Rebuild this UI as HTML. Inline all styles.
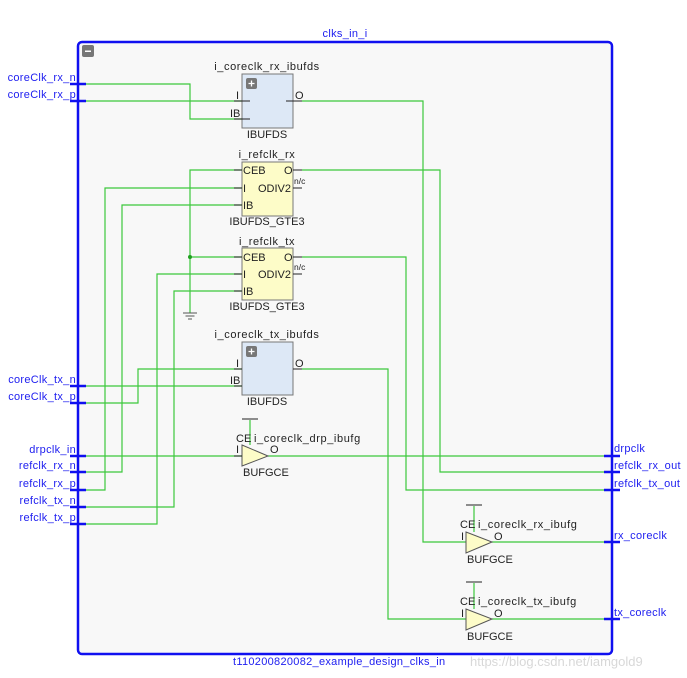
<!DOCTYPE html>
<html><head><meta charset="utf-8"><style>
html,body{margin:0;padding:0;background:#fff;}
svg{display:block;}
text{font-family:"Liberation Sans","DejaVu Sans",sans-serif;font-size:11px;}
.b{fill:#2020f0;letter-spacing:0.3px;}
.k{fill:#222;}
.n{letter-spacing:0.6px;}
.g{stroke:#3cc83c;stroke-width:1.2;fill:none;}
.p{stroke:#1010f0;stroke-width:2.5;}
.pin{stroke:#222;stroke-width:1;}
</style></head><body>
<svg width="687" height="678" viewBox="0 0 687 678" xmlns="http://www.w3.org/2000/svg">
<rect x="0" y="0" width="687" height="678" fill="#fff"/>
<rect x="78" y="42" width="534" height="612" rx="4" fill="#f8f8f8" stroke="#1010f0" stroke-width="2.5"/>
<rect x="82" y="45" width="12" height="12" rx="2" fill="#777"/>
<rect x="85" y="50.5" width="6" height="1.5" fill="#fff"/>
<text x="345" y="37" text-anchor="middle" class="b">clks_in_i</text>
<text x="233" y="665" class="b">t110200820082_example_design_clks_in</text>
<text x="470" y="666" fill="#d8d8d8" style="font-size:13px">https://blog.csdn.net/iamgold9</text>

<g class="g">
<path d="M86 84 H190 V119 H242"/>
<path d="M86 101 H242"/>
<path d="M302 101 H423 V542 H466"/>
<path d="M242 170 H190 V313"/>
<path d="M190 257 H242"/>
<path d="M242 188 H105 V490 H86"/>
<path d="M242 205 H122 V472 H86"/>
<path d="M242 274 H157 V524 H86"/>
<path d="M242 291 H174 V507 H86"/>
<path d="M302 170 H440 V472 H604"/>
<path d="M302 257 H406 V490 H604"/>
<path d="M86 386 H242"/>
<path d="M86 403 H138 V369 H242"/>
<path d="M302 369 H388 V619 H466"/>
<path d="M86 456 H242"/>
<path d="M268 456 H604"/>
<path d="M492 542 H604"/>
<path d="M492 619 H604"/>
<path d="M250 420 V445"/>
<path d="M474 506 V532"/>
<path d="M474 583 V609"/>
</g>
<circle cx="190" cy="257" r="2" fill="#20a020"/>
<g stroke="#555" stroke-width="1"><line x1="183" y1="313" x2="197" y2="313"/><line x1="185.5" y1="316" x2="194.5" y2="316"/><line x1="188" y1="319" x2="192" y2="319"/></g>

<g class="p">
<line x1="70" y1="84" x2="86" y2="84"/><line x1="70" y1="101" x2="86" y2="101"/>
<line x1="70" y1="386" x2="86" y2="386"/><line x1="70" y1="403" x2="86" y2="403"/>
<line x1="70" y1="456" x2="86" y2="456"/><line x1="70" y1="472" x2="86" y2="472"/>
<line x1="70" y1="490" x2="86" y2="490"/><line x1="70" y1="507" x2="86" y2="507"/>
<line x1="70" y1="524" x2="86" y2="524"/>
<line x1="604" y1="456" x2="620" y2="456"/><line x1="604" y1="472" x2="620" y2="472"/>
<line x1="604" y1="490" x2="620" y2="490"/><line x1="604" y1="542" x2="620" y2="542"/>
<line x1="604" y1="619" x2="620" y2="619"/>
</g>
<g class="b" text-anchor="end">
<text x="76" y="81">coreClk_rx_n</text><text x="76" y="98">coreClk_rx_p</text>
<text x="76" y="383">coreClk_tx_n</text><text x="76" y="400">coreClk_tx_p</text>
<text x="76" y="453">drpclk_in</text><text x="76" y="469">refclk_rx_n</text>
<text x="76" y="487">refclk_rx_p</text><text x="76" y="504">refclk_tx_n</text>
<text x="76" y="521">refclk_tx_p</text>
</g>
<g class="b">
<text x="614" y="452">drpclk</text><text x="614" y="469">refclk_rx_out</text>
<text x="614" y="487">refclk_tx_out</text><text x="614" y="539">rx_coreclk</text>
<text x="614" y="616">tx_coreclk</text>
</g>

<rect x="242" y="74" width="51" height="54" fill="#dde8f6" stroke="#777" stroke-width="1"/>
<rect x="246" y="78" width="11" height="11" rx="2" fill="#777"/><path d="M251.5 80.5v6M248.5 83.5h6" stroke="#fff" stroke-width="1.3"/>
<g class="pin"><line x1="234" y1="101" x2="250" y2="101"/><line x1="234" y1="119" x2="250" y2="119"/><line x1="286" y1="101" x2="302" y2="101"/></g>
<g class="k"><text x="267" y="70" text-anchor="middle" class="n">i_coreclk_rx_ibufds</text><text x="236" y="99">I</text><text x="230" y="117">IB</text><text x="295" y="99">O</text><text x="267" y="138" text-anchor="middle">IBUFDS</text></g>

<rect x="242" y="162" width="51" height="54" fill="#fdfcc8" stroke="#777"/>
<g class="pin"><line x1="234" y1="170" x2="242" y2="170"/><line x1="234" y1="188" x2="242" y2="188"/><line x1="234" y1="205" x2="242" y2="205"/><line x1="293" y1="170" x2="302" y2="170"/><line x1="293" y1="188" x2="302" y2="188"/></g>
<g class="k"><text x="267" y="158" text-anchor="middle" class="n">i_refclk_rx</text><text x="243" y="174">CEB</text><text x="243" y="192">I</text><text x="243" y="209">IB</text><text x="284" y="174">O</text><text x="258" y="192">ODIV2</text><text x="294" y="184" style="font-size:8.5px">n/c</text><text x="267" y="225" text-anchor="middle">IBUFDS_GTE3</text></g>

<rect x="242" y="248" width="51" height="52" fill="#fdfcc8" stroke="#777"/>
<g class="pin"><line x1="234" y1="257" x2="242" y2="257"/><line x1="234" y1="274" x2="242" y2="274"/><line x1="234" y1="291" x2="242" y2="291"/><line x1="293" y1="257" x2="302" y2="257"/><line x1="293" y1="274" x2="302" y2="274"/></g>
<g class="k"><text x="267" y="245" text-anchor="middle" class="n">i_refclk_tx</text><text x="243" y="261">CEB</text><text x="243" y="278">I</text><text x="243" y="295">IB</text><text x="284" y="261">O</text><text x="258" y="278">ODIV2</text><text x="294" y="270" style="font-size:8.5px">n/c</text><text x="267" y="310" text-anchor="middle">IBUFDS_GTE3</text></g>

<rect x="242" y="342" width="51" height="53" fill="#dde8f6" stroke="#777"/>
<rect x="246" y="346" width="11" height="11" rx="2" fill="#777"/><path d="M251.5 348.5v6M248.5 351.5h6" stroke="#fff" stroke-width="1.3"/>
<g class="pin"><line x1="234" y1="369" x2="242" y2="369"/><line x1="234" y1="386" x2="242" y2="386"/><line x1="293" y1="369" x2="302" y2="369"/></g>
<g class="k"><text x="267" y="338" text-anchor="middle" class="n">i_coreclk_tx_ibufds</text><text x="236" y="367">I</text><text x="230" y="384">IB</text><text x="295" y="367">O</text><text x="267" y="405" text-anchor="middle">IBUFDS</text></g>

<line x1="242" y1="419" x2="258" y2="419" class="pin"/>
<path d="M242 445 L268 456 L242 466 Z" fill="#fdfcc8" stroke="#555"/>
<line x1="234" y1="456" x2="242" y2="456" class="pin"/>
<g class="k"><text x="236" y="442">CE</text><text x="254" y="442" class="n">i_coreclk_drp_ibufg</text><text x="236" y="453">I</text><text x="270" y="453">O</text><text x="243" y="476">BUFGCE</text></g>

<line x1="466" y1="505" x2="482" y2="505" class="pin"/>
<path d="M466 532 L492 542 L466 553 Z" fill="#fdfcc8" stroke="#555"/>
<g class="k"><text x="460" y="528">CE</text><text x="478" y="528" class="n">i_coreclk_rx_ibufg</text><text x="461" y="540">I</text><text x="494" y="540">O</text><text x="467" y="563">BUFGCE</text></g>

<line x1="466" y1="582" x2="482" y2="582" class="pin"/>
<path d="M466 609 L492 619 L466 630 Z" fill="#fdfcc8" stroke="#555"/>
<g class="k"><text x="460" y="605">CE</text><text x="478" y="605" class="n">i_coreclk_tx_ibufg</text><text x="461" y="617">I</text><text x="494" y="617">O</text><text x="467" y="640">BUFGCE</text></g>
</svg>
</body></html>
